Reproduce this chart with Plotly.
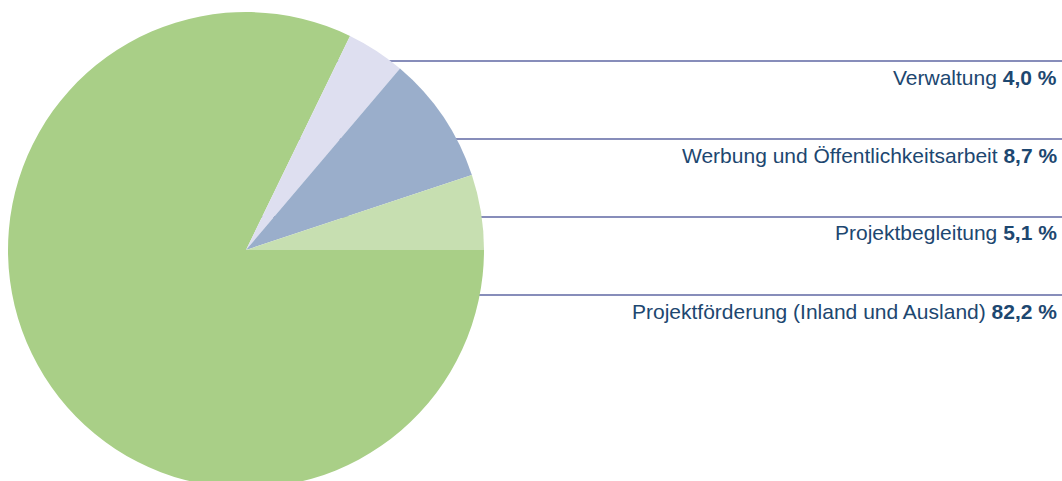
import plotly.graph_objects as go

# Data (listed clockwise starting at 3 o'clock)
labels = ["Projektförderung (Inland und Ausland)", "Verwaltung",
          "Werbung und Öffentlichkeitsarbeit", "Projektbegleitung"]
values = [82.2, 4.0, 8.7, 5.1]
value_text = ["82,2 %", "4,0 %", "8,7 %", "5,1 %"]
colors = ["#a9cf87", "#dedff0", "#9aaecb", "#c7dfb1"]

# label order top to bottom on the right
label_order = [1, 2, 3, 0]

W, H = 1062, 490
cx, cy, r = 246, 250, 238
line_y_px = [61, 139, 217, 295]

fig = go.Figure()
fig.add_trace(go.Pie(
    labels=labels, values=values, sort=False, direction="clockwise",
    rotation=90, textinfo="none", hoverinfo="skip",
    marker=dict(colors=colors, line=dict(width=0)),
    domain=dict(x=[(cx - r) / W, (cx + r) / W], y=[1 - (cy + r) / H, 1 - (cy - r) / H]),
    showlegend=False,
))

for i, idx in enumerate(label_order):
    ly = line_y_px[i]
    fig.add_shape(type="line", xref="paper", yref="paper", layer="below",
                  x0=cx / W, x1=1, y0=1 - ly / H, y1=1 - ly / H,
                  line=dict(color="#5f67a3", width=1.5))
    fig.add_annotation(xref="paper", yref="paper", x=1059 / W, y=1 - (ly + 16) / H,
                       xanchor="right", yanchor="middle", showarrow=False,
                       text=f"{labels[idx]} <b>{value_text[idx]}</b>",
                       font=dict(family="Liberation Sans, Arial, sans-serif", size=21,
                                 color="#1d4770"))

fig.update_layout(width=W, height=H, margin=dict(l=0, r=0, t=0, b=0),
                  paper_bgcolor="white", plot_bgcolor="white")
fig.write_html("out.html", config={"displayModeBar": False},
               post_script="document.body.style.margin='0';"
                           "document.documentElement.style.overflow='hidden';"
                           "document.body.style.overflow='hidden';")
